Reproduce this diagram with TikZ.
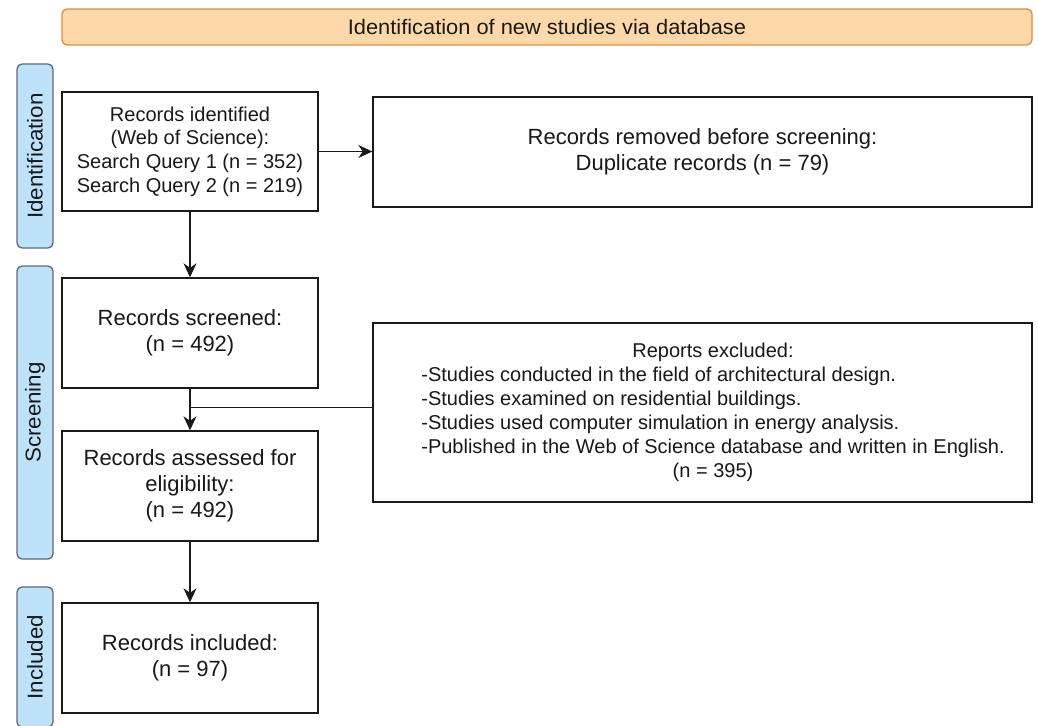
\documentclass[tikz,border=0pt]{standalone}
\usepackage{fontspec}
\setmainfont{Liberation Sans}
\newfontfamily\headfont{Liberation Sans}[FakeStretch=1.04]
\usetikzlibrary{arrows.meta,calc}

\definecolor{inkc}{RGB}{25,25,25}
\definecolor{headfill}{RGB}{254,216,168}
\definecolor{headline}{RGB}{228,140,60}
\definecolor{phasefill}{RGB}{190,226,250}
\definecolor{phaseline}{RGB}{95,105,115}

\tikzset{
  box/.style={draw=inkc, line width=1.4pt, fill=white, inner sep=0pt,
    align=center, text=inkc, font=\fontsize{22}{26.2}\selectfont},
  smallbox/.style={box, font=\fontsize{20}{23.6}\selectfont},
  headbar/.style={draw=headline, line width=1.3pt, fill=headfill,
    rounded corners=5pt, inner sep=0pt, text=inkc,
    font=\headfont\fontsize{21}{24}\selectfont},
  phase/.style={draw=phaseline, line width=1.3pt, fill=phasefill,
    rounded corners=5pt, inner sep=0pt, text=inkc,
    font=\headfont\fontsize{21.5}{24}\selectfont},
  flow/.style={draw=inkc, line width=1.3pt,
    -{Stealth[length=14pt, width=13pt, inset=4.5pt]}},
  link/.style={draw=inkc, line width=1.3pt}
}

\begin{document}
\begin{tikzpicture}[x=1pt, y=-1pt]
\useasboundingbox (0,0) rectangle (1038,725);

% title bar
\node[headbar, minimum width=970pt, minimum height=36pt] (title) at (547,27)
  {Identification of new studies via database};

% phase labels on the left
\node[phase, minimum width=36pt, minimum height=184pt] (phid) at (35,156)
  {\rotatebox{90}{Identification}};
\node[phase, minimum width=36pt, minimum height=293pt] (phsc) at (35,412.5)
  {\rotatebox{90}{Screening}};
\node[phase, minimum width=36pt, minimum height=140pt] (phin) at (35,657)
  {\rotatebox{90}{Included}};

% flow boxes
\node[smallbox, minimum width=256pt, minimum height=119pt] (ident) at (190,151.5)
  {Records identified\\(Web of Science):\\Search Query 1 (n = 352)\\Search Query 2 (n = 219)};
\node[box, minimum width=659pt, minimum height=110pt] (removed) at (702.5,152)
  {Records removed before screening:\\Duplicate records (n = 79)};
\node[box, minimum width=256pt, minimum height=110pt] (screened) at (190,333)
  {Records screened:\\(n = 492)};
\node[box, minimum width=659pt, minimum height=179pt] (excluded) at (702.5,412.5) {};
\node[inner sep=0pt, text=inkc, font=\fontsize{20}{24}\selectfont] (exctext) at (713,412.5)
  {\renewcommand{\arraystretch}{1}%
   \begin{tabular}{@{}l@{}}
   \multicolumn{1}{@{}c@{}}{Reports excluded:}\\
   -Studies conducted in the field of architectural design.\\
   -Studies examined on residential buildings.\\
   -Studies used computer simulation in energy analysis.\\
   -Published in the Web of Science database and written in English.\\
   \multicolumn{1}{@{}c@{}}{(n = 395)}
   \end{tabular}};
\node[box, minimum width=256pt, minimum height=110pt] (assessed) at (190,486)
  {Records assessed for\\eligibility:\\(n = 492)};
\node[box, minimum width=256pt, minimum height=110pt] (included) at (190,658)
  {Records included:\\(n = 97)};

% connectors
\coordinate (branch) at ($(screened.south)+(0,19)$);
\draw[flow] (ident.east) -- (ident.east -| removed.west);
\draw[flow] (ident.south) -- (screened.north);
\draw[flow] (screened.south) -- (assessed.north);
\draw[link] (branch) -- (branch -| excluded.west);
\draw[flow] (assessed.south) -- (included.north);
\end{tikzpicture}
\end{document}
